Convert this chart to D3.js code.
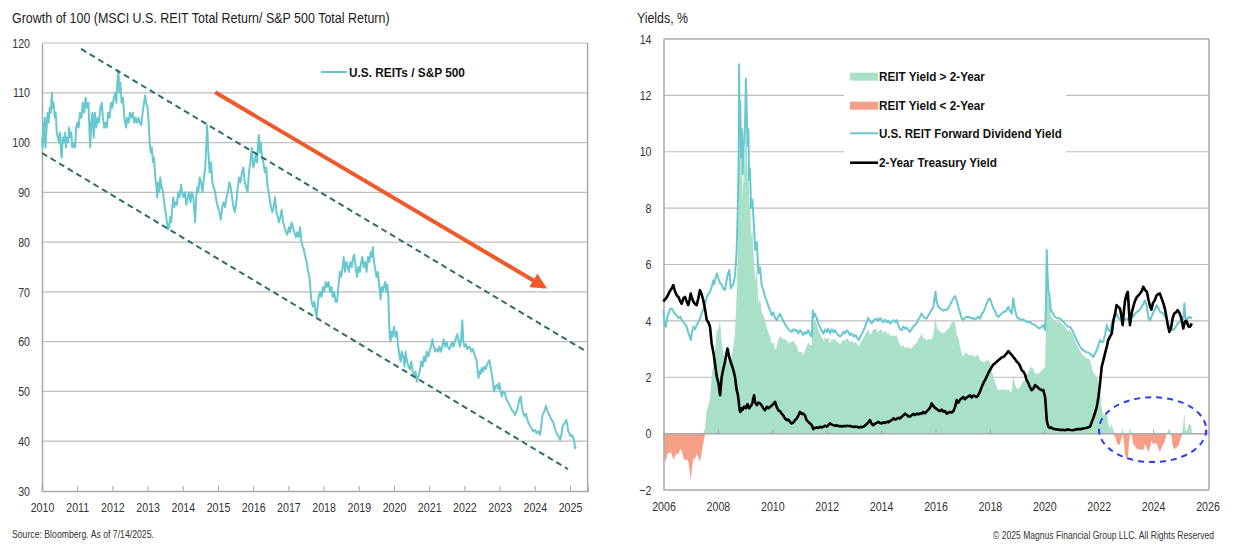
<!DOCTYPE html>
<html><head><meta charset="utf-8">
<script src="https://cdn.jsdelivr.net/npm/d3@7"></script>
<style>
html,body{margin:0;padding:0;background:#fff;}
svg{display:block;font-family:"Liberation Sans",Arial,sans-serif;}
</style></head><body>
<svg id="chart" width="1235" height="549"></svg>
<script>
// ---------------- LEFT CHART DATA ----------------
const leftTitle = "Growth of 100 (MSCI U.S. REIT Total Return/ S&P 500 Total Return)";
const leftSeriesName = "U.S. REITs / S&P 500";
const leftXTicks = [2010,2011,2012,2013,2014,2015,2016,2017,2018,2019,2020,2021,2022,2023,2024,2025];
const leftYTicks = [30,40,50,60,70,80,90,100,110,120];
const ratioDates = [
2010.00,2010.02,2010.04,2010.06,2010.08,2010.10,2010.13,2010.16,2010.19,2010.22,2010.25,2010.28,2010.30,2010.33,2010.36,2010.39,2010.42,2010.45,2010.48,2010.51,2010.54,2010.56,2010.59,2010.62,2010.65,2010.68,2010.71,2010.74,2010.77,2010.80,2010.83,2010.86,2010.90,2010.94,2010.97,
2011.00,2011.04,2011.08,2011.12,2011.16,2011.20,2011.24,2011.28,2011.32,2011.35,2011.37,2011.40,2011.43,2011.47,2011.50,2011.54,2011.58,2011.62,2011.66,2011.70,2011.73,2011.77,2011.80,2011.84,2011.88,2011.92,2011.96,
2012.00,2012.04,2012.08,2012.11,2012.14,2012.17,2012.20,2012.23,2012.26,2012.30,2012.33,2012.36,2012.39,2012.42,2012.46,2012.50,2012.54,2012.58,2012.62,2012.66,2012.70,2012.74,2012.78,2012.82,2012.86,2012.90,2012.93,2012.96,
2013.00,2013.03,2013.06,2013.09,2013.12,2013.15,2013.18,2013.22,2013.25,2013.27,2013.30,2013.33,2013.36,2013.40,2013.44,2013.47,2013.51,2013.55,2013.58,2013.61,2013.64,2013.67,2013.70,2013.73,2013.76,2013.79,2013.83,2013.87,2013.91,2013.95,2013.98,
2014.02,2014.06,2014.10,2014.14,2014.18,2014.22,2014.26,2014.30,2014.33,2014.35,2014.38,2014.41,2014.44,2014.48,2014.52,2014.56,2014.60,2014.64,2014.67,2014.69,2014.72,2014.76,2014.80,2014.84,2014.88,2014.92,2014.96,
2015.00,2015.04,2015.08,2015.12,2015.16,2015.20,2015.24,2015.28,2015.32,2015.36,2015.40,2015.44,2015.48,2015.52,2015.56,2015.60,2015.64,2015.68,2015.72,2015.76,2015.80,2015.84,2015.88,2015.92,2015.96,
2016.00,2016.04,2016.08,2016.11,2016.14,2016.16,2016.19,2016.22,2016.25,2016.29,2016.33,2016.37,2016.41,2016.44,2016.48,2016.51,2016.54,2016.58,2016.62,2016.66,2016.70,2016.73,2016.77,2016.81,2016.85,2016.89,2016.93,2016.97,
2017.01,2017.05,2017.09,2017.13,2017.17,2017.21,2017.25,2017.29,2017.33,2017.37,2017.41,2017.44,2017.48,2017.52,2017.56,2017.60,2017.63,2017.66,2017.70,2017.74,2017.77,2017.80,2017.83,2017.86,2017.90,2017.94,2017.98,
2018.02,2018.06,2018.10,2018.14,2018.18,2018.22,2018.26,2018.30,2018.34,2018.38,2018.42,2018.46,2018.50,2018.54,2018.57,2018.61,2018.65,2018.69,2018.72,2018.76,2018.80,2018.84,2018.87,2018.91,2018.95,2018.99,
2019.03,2019.07,2019.10,2019.14,2019.18,2019.22,2019.26,2019.30,2019.34,2019.37,2019.40,2019.43,2019.46,2019.50,2019.54,2019.57,2019.60,2019.62,2019.65,2019.68,2019.71,2019.75,2019.78,2019.81,2019.84,2019.86,2019.88,2019.90,2019.93,2019.96,
2020.00,2020.04,2020.08,2020.12,2020.16,2020.19,2020.22,2020.26,2020.30,2020.33,2020.37,2020.41,2020.45,2020.49,2020.53,2020.57,2020.61,2020.65,2020.69,2020.73,2020.77,2020.81,2020.85,2020.89,2020.93,2020.97,
2021.01,2021.05,2021.09,2021.13,2021.17,2021.21,2021.25,2021.29,2021.33,2021.37,2021.41,2021.45,2021.49,2021.53,2021.57,2021.61,2021.65,2021.69,2021.73,2021.77,2021.80,2021.84,2021.88,2021.91,2021.94,2021.97,
2022.00,2022.04,2022.08,2022.12,2022.16,2022.20,2022.24,2022.28,2022.31,2022.35,2022.38,2022.40,2022.43,2022.46,2022.49,2022.53,2022.57,2022.61,2022.65,2022.69,2022.71,2022.74,2022.77,2022.81,2022.84,2022.88,2022.92,2022.96,2022.99,
2023.03,2023.06,2023.10,2023.15,2023.19,2023.25,2023.30,2023.34,2023.39,2023.44,2023.47,2023.50,2023.55,2023.60,2023.63,2023.67,2023.71,2023.75,2023.79,2023.83,2023.87,2023.91,2023.95,
2024.00,2024.05,2024.10,2024.15,2024.18,2024.22,2024.27,2024.32,2024.36,2024.41,2024.46,2024.52,2024.57,2024.62,2024.67,2024.72,2024.76,2024.79,2024.83,2024.86,2024.89,2024.92,2024.95,2024.99,
2025.02,2025.06,2025.10,2025.13,2025.15,2025.17];
const ratioValues = [
101,99,104,100,105,99,103,106,104,107,106,110,107,108,105,106,102,101,100,102,98,97,101,100,102,99,101,100,103,101,102,99,100,99,103,
104,103,106,105,108,106,109,107,108,102,99,104,106,101,106,103,105,104,107,108,105,103,104,103,106,105,108,
107,109,110,108,112,114.5,110,112,108,109,106,104,103,105,104,106,105,106,104,105,104,105,104,103.5,106,108,109.5,108,
107,104,100,98,99,96,97,93,91,89,92,90,93,91,90,88,86,84,82.5,83,85,84,87,89,87,88,87.5,90,89,91.5,90,
89,90,87.5,89,90,88,90,89,86,84,89,91,90,93,92,90,93,95,100,103.5,99,94,96,92,91,90,88,
87,86,84.5,87,88,87,89,90,92,91,89,87,86,88,91,93,92,94,95,92,91,90,94,96,99,
95,96,98,96,100,101.5,98,100,97,96,94,95,91,90,88,87,86,87,89,86,85,84,85,86.5,84,83,82,81.5,
83,82,84,83,82,81,82,81,83,80,79,78.5,77,76,74,73,70,68,67,68,66,65,67,69,70,69,71,
70,72,71,72,70,71,69,70,68,68,71,74,73,75,77,74,76,75,74,76,75,77,77.5,75,73,75,
74,76,77,75,76,74,77,76,78,77,79,76,75,73,74,72,70,68.5,71,70,71,72,70,71.5,69,64,61,60,62,61,
63,61,62,59,57,56,58,57,55,58,56,55,54.5,56,54,53,54,52,53,54,56,55,57,56,58,57,
58,59,60.5,59,58,58.5,58,59,58,59,60.5,59,60,59,58.5,59,60,59,60,61,61.5,60,59,61,64.3,60,
59,59.5,58.5,59,58.8,58,58.5,57.5,57,56,54,52.7,54,53.5,54.7,54,55,54.5,55.5,56,56.3,55,53.9,52,50,51,51.3,50.5,51.7,
50,49,50,49.7,48.5,47.7,47,46.3,46,45.3,45.8,46.3,48,49,47,45.7,45,45.5,44.3,43.5,43,42.6,42,
42.3,41.6,42,41.3,43,45.3,46,47.1,46,45.3,44.5,43.9,42.5,41.6,41,40.3,41.5,43,43.5,43.8,44.3,43.5,42,41.5,
41,41.2,40.6,39.5,38.6,38.9];
// trend channel (dashed) and arrow annotation, in data units [year, value]
const upperChannel = [[2011.11,118.8],[2025.40,58.3]];
const lowerChannel = [[2010.00,97.9],[2024.94,34.4]];
const trendArrow = [[2014.92,110.1],[2024.27,71.0]];

// ---------------- RIGHT CHART DATA ----------------
const rightTitle = "Yields, %";
const rightXTicks = [2006,2008,2010,2012,2014,2016,2018,2020,2022,2024,2026];
const rightYTicks = [-2,0,2,4,6,8,10,12,14];
const legendLabels = ["REIT Yield > 2-Year","REIT Yield < 2-Year","U.S. REIT Forward Dividend Yield","2-Year Treasury Yield"];
const yieldDates = [
2006.00,2006.04,2006.08,2006.13,2006.18,2006.23,2006.30,2006.36,2006.42,2006.49,2006.55,2006.61,2006.67,2006.73,2006.79,2006.85,2006.91,2006.96,
2007.00,2007.05,2007.10,2007.16,2007.22,2007.28,2007.34,2007.40,2007.46,2007.53,2007.59,2007.65,2007.71,2007.77,2007.83,2007.86,2007.92,2007.96,
2008.02,2008.08,2008.14,2008.20,2008.26,2008.35,2008.42,2008.47,2008.57,2008.63,2008.69,2008.73,2008.76,2008.78,2008.80,2008.82,2008.85,2008.88,2008.91,2008.95,
2009.00,2009.03,2009.06,2009.09,2009.12,2009.15,2009.18,2009.22,2009.27,2009.33,2009.37,2009.43,2009.49,2009.55,2009.61,2009.67,2009.73,2009.80,2009.86,2009.92,2009.98,
2010.04,2010.10,2010.16,2010.22,2010.28,2010.35,2010.40,2010.46,2010.53,2010.59,2010.65,2010.71,2010.78,2010.84,2010.90,2010.96,
2011.02,2011.08,2011.14,2011.20,2011.26,2011.32,2011.39,2011.45,2011.49,2011.51,2011.56,2011.63,2011.69,2011.75,2011.82,2011.88,2011.94,
2012.00,2012.06,2012.12,2012.19,2012.25,2012.31,2012.37,2012.43,2012.49,2012.55,2012.61,2012.67,2012.74,2012.80,2012.86,2012.92,
2013.00,2013.06,2013.12,2013.18,2013.24,2013.30,2013.36,2013.43,2013.49,2013.53,2013.59,2013.65,2013.71,2013.77,2013.84,2013.90,2013.96,
2014.02,2014.08,2014.14,2014.21,2014.27,2014.33,2014.39,2014.45,2014.51,2014.57,2014.63,2014.70,2014.76,2014.82,2014.88,2014.94,
2015.00,2015.06,2015.12,2015.18,2015.25,2015.31,2015.37,2015.43,2015.49,2015.55,2015.61,2015.67,2015.74,2015.80,2015.86,2015.92,
2016.00,2016.04,2016.10,2016.17,2016.23,2016.29,2016.35,2016.41,2016.47,2016.53,2016.60,2016.66,2016.72,2016.78,2016.84,2016.90,2016.96,
2017.02,2017.08,2017.14,2017.21,2017.27,2017.33,2017.39,2017.45,2017.51,2017.57,2017.64,2017.70,2017.76,2017.82,2017.88,2017.94,
2018.00,2018.07,2018.13,2018.19,2018.25,2018.31,2018.37,2018.43,2018.50,2018.56,2018.62,2018.68,2018.74,2018.80,2018.86,2018.92,2018.99,
2019.05,2019.11,2019.17,2019.23,2019.29,2019.35,2019.41,2019.47,2019.54,2019.60,2019.66,2019.72,2019.78,2019.84,2019.90,2019.96,
2020.03,2020.06,2020.09,2020.12,2020.15,2020.20,2020.24,2020.30,2020.39,2020.48,2020.58,2020.67,2020.76,2020.85,2020.95,
2021.06,2021.15,2021.25,2021.34,2021.43,2021.52,2021.60,2021.68,2021.74,2021.80,2021.87,2021.93,2021.99,
2022.05,2022.11,2022.17,2022.23,2022.30,2022.35,2022.42,2022.48,2022.54,2022.60,2022.66,2022.72,2022.78,2022.83,2022.88,2022.93,2022.97,
2023.03,2023.07,2023.11,2023.15,2023.21,2023.27,2023.33,2023.40,2023.46,2023.52,2023.58,2023.64,2023.70,2023.77,2023.83,2023.89,2023.94,2023.99,
2024.07,2024.13,2024.19,2024.25,2024.31,2024.38,2024.44,2024.50,2024.55,2024.60,2024.66,2024.72,2024.78,2024.84,2024.90,2024.96,
2025.02,2025.07,2025.11,2025.15,2025.19,2025.24,2025.30,2025.36,2025.42];
const reitYield = [
4.38,3.90,3.79,4.10,4.25,4.40,4.44,4.35,4.25,4.20,4.10,4.15,4.03,3.95,3.90,3.79,3.60,3.45,
3.32,3.60,3.79,3.70,3.85,3.95,4.08,4.25,4.40,4.62,4.85,4.95,5.03,5.20,5.44,5.30,5.55,5.68,
5.50,5.35,5.27,5.15,5.09,5.60,5.80,5.15,5.32,5.60,6.50,8.00,9.50,13.10,10.50,11.80,9.80,10.80,9.20,10.20,
11.00,12.60,11.50,10.20,10.80,9.00,9.40,8.00,8.30,7.30,6.51,6.80,5.68,5.90,5.27,5.10,4.85,4.70,4.50,4.38,4.20,
4.30,4.10,4.03,4.15,4.26,4.10,4.00,3.90,3.79,3.70,3.65,3.61,3.70,3.65,3.67,3.55,
3.67,3.60,3.50,3.60,3.55,3.67,3.50,3.44,4.38,4.10,4.26,4.10,3.90,3.79,3.65,3.55,3.70,
3.60,3.73,3.55,3.70,3.60,3.67,3.55,3.50,3.44,3.50,3.62,3.55,3.67,3.60,3.50,3.55,
3.44,3.50,3.40,3.32,3.45,3.55,3.67,3.85,4.00,4.11,4.00,3.91,4.00,4.05,4.08,4.00,4.10,
4.03,3.95,4.05,3.95,4.00,3.91,3.95,4.03,3.95,4.03,3.85,3.70,3.67,3.80,3.73,3.75,
3.68,3.61,3.70,3.80,3.85,3.91,4.05,4.15,4.26,4.15,4.10,4.08,4.20,4.30,4.38,4.50,
5.03,4.70,4.50,4.44,4.40,4.36,4.40,4.38,4.46,4.56,4.70,4.80,4.88,4.70,4.50,4.30,4.10,
4.03,4.10,4.15,4.12,4.14,4.08,4.10,4.05,4.08,4.15,4.08,4.25,4.32,4.45,4.60,4.75,
4.80,4.60,4.44,4.35,4.20,4.14,4.20,4.25,4.32,4.32,4.40,4.50,4.35,4.26,4.80,4.40,4.14,
4.10,4.05,4.03,4.05,4.00,3.97,3.95,3.97,3.90,3.88,3.85,3.80,3.75,3.73,3.80,3.85,
3.67,4.50,6.51,5.60,5.09,4.80,4.38,4.30,4.14,4.10,4.08,4.00,3.91,3.80,3.79,
3.61,3.40,3.20,3.05,2.96,2.90,2.88,2.84,2.78,2.72,2.85,2.96,3.15,
3.32,3.25,3.26,3.50,3.85,3.70,3.61,3.90,4.08,4.15,4.26,4.10,4.05,4.00,4.02,4.10,4.02,
4.05,4.10,4.00,4.05,4.20,4.15,4.25,4.32,4.35,4.40,4.50,4.60,4.73,4.50,4.10,4.02,4.15,4.26,
4.40,4.56,4.45,4.32,4.30,4.25,4.15,4.08,3.90,3.79,3.75,3.67,3.70,3.80,3.91,3.95,
3.98,4.02,4.08,4.62,4.10,4.05,4.12,4.14,4.08];
const ust2y = [
4.68,4.75,4.79,4.85,4.95,5.05,5.15,5.27,5.05,4.90,4.85,4.70,4.61,4.80,4.85,4.70,4.56,4.75,
4.97,4.80,4.68,4.60,4.56,4.80,5.09,4.95,4.74,4.40,4.03,3.95,3.79,3.20,2.90,2.72,2.30,2.01,
1.80,1.36,2.01,2.30,2.55,3.02,2.70,2.55,2.25,2.00,1.54,1.40,1.20,1.00,0.85,0.77,0.80,0.90,0.85,0.95,
0.95,0.90,1.00,1.05,0.95,0.90,0.95,0.98,1.10,1.36,1.10,1.01,1.10,1.07,1.00,0.90,0.83,0.95,0.90,0.95,1.00,
1.05,1.13,0.95,0.83,0.80,0.70,0.65,0.55,0.48,0.50,0.42,0.36,0.40,0.48,0.54,0.65,
0.77,0.70,0.71,0.65,0.48,0.42,0.36,0.30,0.20,0.16,0.20,0.22,0.20,0.24,0.22,0.25,0.28,
0.25,0.30,0.36,0.32,0.30,0.28,0.30,0.26,0.27,0.25,0.27,0.26,0.28,0.27,0.27,0.25,
0.24,0.25,0.24,0.22,0.24,0.23,0.25,0.30,0.36,0.40,0.48,0.35,0.30,0.35,0.38,0.42,0.38,
0.36,0.40,0.38,0.42,0.40,0.45,0.48,0.54,0.50,0.52,0.56,0.54,0.60,0.65,0.71,0.66,
0.62,0.60,0.65,0.70,0.66,0.71,0.68,0.72,0.70,0.77,0.72,0.78,0.85,0.92,1.07,0.98,
0.90,0.88,0.83,0.80,0.85,0.78,0.80,0.71,0.74,0.77,0.75,0.80,0.95,1.19,1.10,1.20,1.25,
1.30,1.22,1.28,1.32,1.36,1.28,1.35,1.33,1.30,1.36,1.50,1.66,1.80,1.90,2.01,2.15,
2.25,2.37,2.45,2.50,2.55,2.60,2.65,2.70,2.72,2.78,2.85,2.93,2.85,2.80,2.72,2.65,2.55,
2.50,2.40,2.25,2.20,2.10,1.90,1.80,1.65,1.54,1.60,1.72,1.68,1.62,1.58,1.54,1.55,
1.30,0.90,0.48,0.35,0.24,0.20,0.22,0.18,0.16,0.15,0.13,0.14,0.12,0.15,0.13,
0.12,0.15,0.16,0.16,0.18,0.20,0.22,0.24,0.40,0.55,0.75,0.95,1.30,
1.78,2.37,2.60,2.84,3.10,3.32,3.45,3.55,4.00,4.26,4.56,4.50,4.44,4.20,3.85,4.40,4.73,
4.95,5.03,4.40,3.85,4.25,4.50,4.70,4.85,4.90,4.97,5.05,5.21,5.10,5.03,4.75,4.50,4.40,4.62,
4.75,4.91,4.95,4.97,4.80,4.62,4.40,4.08,3.80,3.61,3.75,4.10,4.26,4.30,4.38,4.30,
4.14,3.95,3.73,3.90,4.00,3.97,3.80,3.79,3.91];
// highlight ellipse: centre [year, value] and radii [years, value units]
const highlightCentre = [2023.98, 0.14];
const highlightRadii = [1.97, 1.15];

const sourceText = "Source: Bloomberg. As of 7/14/2025.";
const copyrightText = "\u00A9 2025 Magnus Financial Group LLC. All Rights Reserved";

// ---------------- STYLES ----------------
const C = {teal:"#69c8cf", dash:"#2c6e6a", orange:"#f0592b", green:"#a8e1c7", red:"#f5a086",
  black:"#000", grid:"#bdbdbd", axis:"#a9a9a9", text:"#333", blue:"#2b3ef0"};
const NARROW = 0.82; // horizontal condense factor imitating a narrow typeface

const svg = d3.select("#chart");

// place a horizontally condensed text whose rendered width equals targetW
function narrowText(parent, x, y, str, opts, targetW){
  const g = parent.append("g").attr("transform",`translate(${x},${y})`);
  const t = g.append("text").attr("x",0).attr("y",0).text(str);
  Object.entries(opts).forEach(([k,v])=>t.attr(k,v));
  const len = t.node().getComputedTextLength();
  const f = len>0 ? targetW/len : 1;
  t.attr("transform",`scale(${f},1)`);
  return t;
}
// condense axis tick labels by factor f, keeping their anchor point
function condenseTicks(sel, f){
  sel.each(function(){
    const n = d3.select(this);
    const x = +n.attr("x") || 0;
    n.attr("x", x/f).attr("transform",`scale(${f},1)`);
  });
}

// ================= LEFT CHART =================
const L = {left:42, right:587.6, top:43, bottom:491};
const xL = d3.scaleLinear().domain([2010, 2025.5]).range([L.left, L.right]);
const yL = d3.scaleLinear().domain([30, 120]).range([L.bottom, L.top]);

narrowText(svg, 12, 23, leftTitle, {"font-size":14, fill:"#222"}, 378);

const gL = svg.append("g");
gL.selectAll("line.grid").data(leftYTicks.filter(d=>d>30)).join("line")
  .attr("x1",L.left).attr("x2",L.right).attr("y1",d=>yL(d)).attr("y2",d=>yL(d))
  .attr("stroke",C.grid).attr("stroke-width",1.2);
gL.append("line").attr("x1",L.right).attr("x2",L.right).attr("y1",L.top).attr("y2",L.bottom)
  .attr("stroke",C.axis).attr("stroke-width",1.5);

const yAxisL = gL.append("g").attr("transform",`translate(${L.left},0)`)
  .call(d3.axisLeft(yL).tickValues(leftYTicks).tickSize(0).tickPadding(12));
const xAxisL = gL.append("g").attr("transform",`translate(0,${L.bottom})`)
  .call(d3.axisBottom(xL).tickValues(leftXTicks).tickSize(-5).tickPadding(12).tickFormat(d3.format("d")));
[yAxisL, xAxisL].forEach(a=>{
  a.select(".domain").attr("stroke",C.axis).attr("stroke-width",1.5);
  a.selectAll(".tick line").attr("stroke",C.axis);
  a.selectAll("text").attr("font-size",13).attr("fill",C.text).attr("font-family",null);
  condenseTicks(a.selectAll("text"), NARROW);
});

const ratioData = d3.zip(ratioDates, ratioValues);
gL.append("path").datum(ratioData)
  .attr("d", d3.line().x(d=>xL(d[0])).y(d=>yL(d[1])))
  .attr("fill","none").attr("stroke",C.teal).attr("stroke-width",2).attr("stroke-linejoin","round");

[upperChannel, lowerChannel].forEach(seg=>{
  gL.append("path").datum(seg).attr("d", d3.line().x(d=>xL(d[0])).y(d=>yL(d[1])))
    .attr("fill","none").attr("stroke",C.dash).attr("stroke-width",2).attr("stroke-dasharray","6,4");
});

const defs = svg.append("defs");
defs.append("marker").attr("id","arrowHead").attr("viewBox","0 0 10 10").attr("refX",8).attr("refY",5)
  .attr("markerWidth",16).attr("markerHeight",16).attr("markerUnits","userSpaceOnUse").attr("orient","auto")
  .append("path").attr("d","M0,0 L10,5 L0,10 Z").attr("fill",C.orange);
gL.append("path").datum(trendArrow).attr("d", d3.line().x(d=>xL(d[0])).y(d=>yL(d[1])))
  .attr("stroke",C.orange).attr("stroke-width",4).attr("fill","none").attr("marker-end","url(#arrowHead)");

// legend left
const legL = gL.append("g");
legL.append("line").attr("x1",321).attr("x2",347).attr("y1",72).attr("y2",72).attr("stroke",C.teal).attr("stroke-width",2);
narrowText(legL, 349, 76.5, leftSeriesName, {"font-size":13, "font-weight":"bold", fill:"#111"}, 116);

narrowText(svg, 12, 538, sourceText, {"font-size":10, fill:"#333"}, 142);

// ================= RIGHT CHART =================
const R = {left:663.5, right:1207.5, top:39, bottom:490};
const xR = d3.scaleLinear().domain([2006, 2026]).range([R.left, R.right]);
const yR = d3.scaleLinear().domain([-2, 14]).range([R.bottom, R.top]);

narrowText(svg, 637, 23, rightTitle, {"font-size":14, fill:"#222"}, 51);

const gR = svg.append("g");
gR.selectAll("line.grid").data(rightYTicks.filter(d=>d!==0)).join("line")
  .attr("x1",R.left).attr("x2",R.right+1.5).attr("y1",d=>yR(d)).attr("y2",d=>yR(d))
  .attr("stroke",d=>(d===-2||d===14)?C.axis:C.grid).attr("stroke-width",d=>(d===-2||d===14)?1.5:1.2);
gR.append("line").attr("x1",R.right+1.5).attr("x2",R.right+1.5).attr("y1",R.top).attr("y2",R.bottom)
  .attr("stroke",C.axis).attr("stroke-width",1.5);

const yData = yieldDates.map((d,i)=>({date:d, reit:reitYield[i], ust:ust2y[i], spread:reitYield[i]-ust2y[i]}));

gR.append("path").datum(yData)
  .attr("d", d3.area().x(d=>xR(d.date)).y0(yR(0)).y1(d=>yR(Math.max(d.spread,0))))
  .attr("fill",C.green);
gR.append("path").datum(yData)
  .attr("d", d3.area().x(d=>xR(d.date)).y0(yR(0)).y1(d=>yR(Math.min(d.spread,0))))
  .attr("fill",C.red);

const yAxisR = gR.append("g").attr("transform",`translate(${R.left},0)`)
  .call(d3.axisLeft(yR).tickValues(rightYTicks).tickSize(0).tickPadding(12));
const zeroAxisR = gR.append("g").attr("transform",`translate(0,${yR(0)})`)
  .call(d3.axisBottom(xR).tickValues(rightXTicks).tickSize(-4).tickFormat(""));
zeroAxisR.select(".domain").attr("d",`M${R.left},0H${R.right+1.5}`);
const xAxisR = gR.append("g").attr("transform",`translate(0,${R.bottom})`)
  .call(d3.axisBottom(xR).tickValues(rightXTicks).tickSize(0).tickPadding(12).tickFormat(d3.format("d")));
xAxisR.select(".domain").remove();
[yAxisR, zeroAxisR].forEach(a=>{
  a.select(".domain").attr("stroke",C.axis).attr("stroke-width",1.5);
  a.selectAll(".tick line").attr("stroke",C.axis);
});
[yAxisR, xAxisR].forEach(a=>{
  a.selectAll("text").attr("font-size",13).attr("fill",C.text).attr("font-family",null);
  condenseTicks(a.selectAll("text"), NARROW);
});

gR.append("path").datum(yData).attr("d", d3.line().x(d=>xR(d.date)).y(d=>yR(d.reit)))
  .attr("fill","none").attr("stroke",C.teal).attr("stroke-width",2).attr("stroke-linejoin","round");
gR.append("path").datum(yData).attr("d", d3.line().x(d=>xR(d.date)).y(d=>yR(d.ust)))
  .attr("fill","none").attr("stroke",C.black).attr("stroke-width",2.6).attr("stroke-linejoin","round");

// legend right
const legR = gR.append("g");
legR.append("rect").attr("x",844).attr("y",62).attr("width",222).attr("height",112).attr("fill","#fff");
const legY = [76.7, 105.7, 133.3, 162.7];
const legW = [106, 106, 183, 118];
legR.append("rect").attr("x",850).attr("y",legY[0]-4).attr("width",28).attr("height",8).attr("fill",C.green);
legR.append("rect").attr("x",850).attr("y",legY[1]-4).attr("width",28).attr("height",8).attr("fill",C.red);
legR.append("line").attr("x1",850).attr("x2",878).attr("y1",legY[2]).attr("y2",legY[2]).attr("stroke",C.teal).attr("stroke-width",2);
legR.append("line").attr("x1",850).attr("x2",878).attr("y1",legY[3]).attr("y2",legY[3]).attr("stroke",C.black).attr("stroke-width",2.6);
legendLabels.forEach((lab,i)=>narrowText(legR, 879, legY[i]+4.5, lab, {"font-size":13, "font-weight":"bold", fill:"#111"}, legW[i]));

// highlight ellipse
gR.append("ellipse")
  .attr("cx", xR(highlightCentre[0])).attr("cy", yR(highlightCentre[1]))
  .attr("rx", xR(highlightCentre[0]+highlightRadii[0]) - xR(highlightCentre[0]))
  .attr("ry", yR(highlightCentre[1]-highlightRadii[1]) - yR(highlightCentre[1]))
  .attr("fill","none").attr("stroke",C.blue).attr("stroke-width",2).attr("stroke-dasharray","6,5");

narrowText(svg, 1214, 539, copyrightText, {"font-size":10.5, fill:"#333", "text-anchor":"end"}, 221);
</script></body></html>
